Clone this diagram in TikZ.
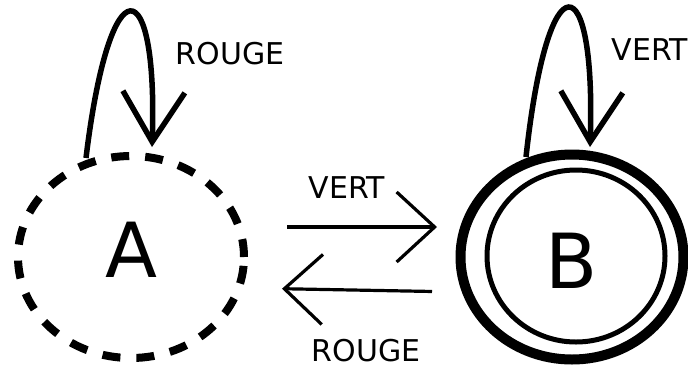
\documentclass[tikz,border=0pt]{standalone}
\usepackage{fontspec}
\setmainfont{DejaVu Sans}
\usetikzlibrary{shapes.geometric,arrows.meta}
\begin{document}
\begin{tikzpicture}[x=1pt,y=-1pt,
  lbl/.style={font=\fontsize{30}{36}\selectfont, inner sep=0pt},
  statefont/.style={font=\fontsize{76}{90}\selectfont, inner sep=0pt, outer sep=0pt},
  loopedge/.style={line width=5.5pt, -{Straight Barb[length=50pt,width=62pt,line width=5.5pt]}},
  midedge/.style={line width=3.2pt, -{Straight Barb[length=38pt,width=70pt,line width=3.2pt]}}]
\useasboundingbox (0,0) rectangle (688,368);
% states
\node[ellipse, draw, line width=8pt, dash pattern=on 18pt off 16pt,
      minimum width=226pt, minimum height=202pt, statefont, text depth=14pt] (A) at (131,257) {A};
\node[ellipse, draw, line width=10pt,
      minimum width=223pt, minimum height=205pt, statefont, text height=62pt] (B) at (572,257) {B};
\node[ellipse, draw, line width=5pt, outer sep=0pt,
      minimum width=178pt, minimum height=172pt, inner sep=0pt] (Bin) at (576,256) {};
% loop end points on the states
\coordinate (Aout) at (86,158);
\coordinate (Ain) at (152,147);
\coordinate (Bout) at (526,157);
\coordinate (Bin2) at (590,147);
% loops
\draw[loopedge] (Aout) .. controls (110,-40) and (158,-30) .. (Ain);
\draw[loopedge] (Bout) .. controls (548,-45) and (596,-35) .. (Bin2);
% transitions between A and B
\draw[midedge, shorten <=43pt, shorten >=23.5pt] ([yshift=30pt]A.east) -- ([yshift=30pt]B.west);
\draw[midedge, shorten <=28.5pt, shorten >=38pt] ([yshift=-35pt]B.west) -- ([yshift=-31pt]A.east);
% labels
\node[lbl] (lrA) at (230,54) {ROUGE};
\node[lbl] (lvB) at (650,50) {VERT};
\node[lbl] (lvAB) at (347,188) {VERT};
\node[lbl] (lrBA) at (366,351) {ROUGE};
\end{tikzpicture}
\end{document}
